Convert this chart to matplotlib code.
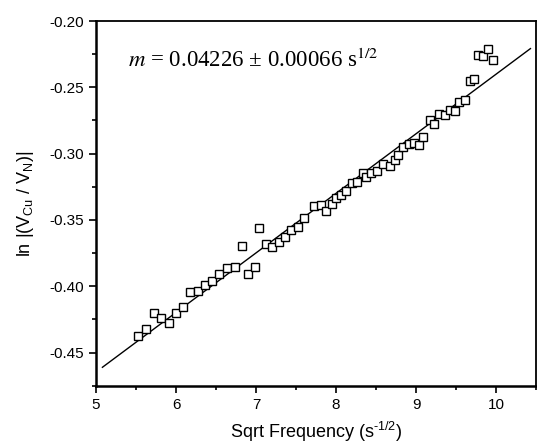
import numpy as np
import matplotlib
matplotlib.use("Agg")
import matplotlib.pyplot as plt
from matplotlib.ticker import MultipleLocator, FormatStrFormatter

plt.rcParams['font.family'] = ['Liberation Sans', 'DejaVu Sans']
plt.rcParams['mathtext.fontset'] = 'custom'
plt.rcParams['mathtext.rm'] = 'Liberation Sans'
plt.rcParams['mathtext.it'] = 'Liberation Sans:italic'
plt.rcParams['axes.unicode_minus'] = False

# data
sqrt_freq = [5.52, 5.63, 5.72, 5.81, 5.91, 6.00, 6.09, 6.18, 6.28, 6.36,
             6.45, 6.54, 6.64, 6.74, 6.82, 6.90, 6.985, 7.04, 7.12, 7.205,
             7.29, 7.36, 7.44, 7.52, 7.60, 7.725, 7.81, 7.88, 7.95, 8.00,
             8.06, 8.13, 8.20, 8.26, 8.34, 8.38, 8.44, 8.51, 8.59, 8.67,
             8.74, 8.78, 8.84, 8.91, 8.97, 9.04, 9.09, 9.17, 9.23, 9.29,
             9.36, 9.43, 9.49, 9.54, 9.61, 9.67, 9.72, 9.78, 9.84, 9.90, 9.96]
ln_ratio = [-0.4378, -0.4326, -0.4198, -0.4241, -0.4280, -0.4200, -0.4156, -0.4043, -0.4033, -0.3988,
            -0.3962, -0.3905, -0.3860, -0.3857, -0.3697, -0.3910, -0.3855, -0.3560, -0.3684, -0.3705,
            -0.3667, -0.3629, -0.3577, -0.3551, -0.3489, -0.3396, -0.3391, -0.3431, -0.3383, -0.3338,
            -0.3313, -0.3280, -0.3223, -0.3213, -0.3145, -0.3175, -0.3145, -0.3130, -0.3078, -0.3090,
            -0.3050, -0.3013, -0.2953, -0.2925, -0.2920, -0.2938, -0.2877, -0.2744, -0.2774, -0.2702,
            -0.2709, -0.2669, -0.2677, -0.2611, -0.2594, -0.2453, -0.2438, -0.2253, -0.2263, -0.2213, -0.2293]

fit_x = [5.08, 10.43]
fit_y = [-0.4611, -0.2208]

fig = plt.figure(figsize=(5.37, 4.47), dpi=100)
ax = fig.add_axes([0.1788, 0.1371, 0.8194, 0.8159])

ax.plot(fit_x, fit_y, color='k', lw=1.0)
ax.plot(sqrt_freq, ln_ratio, ls='none', marker='s', ms=6.3, mfc='white', mec='k', mew=1.0)

ax.set_xlim(5, 10.5)
ax.set_ylim(-0.475, -0.20)
ax.xaxis.set_major_locator(MultipleLocator(1))
ax.xaxis.set_minor_locator(MultipleLocator(0.5))
ax.yaxis.set_major_locator(MultipleLocator(0.05))
ax.yaxis.set_minor_locator(MultipleLocator(0.025))
ax.yaxis.set_major_formatter(FormatStrFormatter('%.2f'))

ax.tick_params(which='both', direction='out', top=False, right=False, width=1.2, labelsize=11)
ax.tick_params(which='major', length=5)
ax.tick_params(which='minor', length=3)
for s in ax.spines.values():
    s.set_linewidth(1.3)
ax.spines['left'].set_linewidth(1.8)
ax.spines['bottom'].set_linewidth(1.8)

ax.set_xlabel(r'Sqrt Frequency (s$^{\text{-1/2}}$)', fontsize=13, labelpad=6)
ax.set_ylabel(r'ln |(V$_{\mathrm{Cu}}$ / V$_{\mathrm{N}}$)|', fontsize=13, labelpad=10)

ax.text(5.40, -0.230, r'$m$ = 0.04226 ± 0.00066 s$^{1/2}$',
        family='Liberation Serif', fontsize=16.5, va='center', ha='left',
        math_fontfamily='stix')

fig.savefig('out.png', dpi=100)
